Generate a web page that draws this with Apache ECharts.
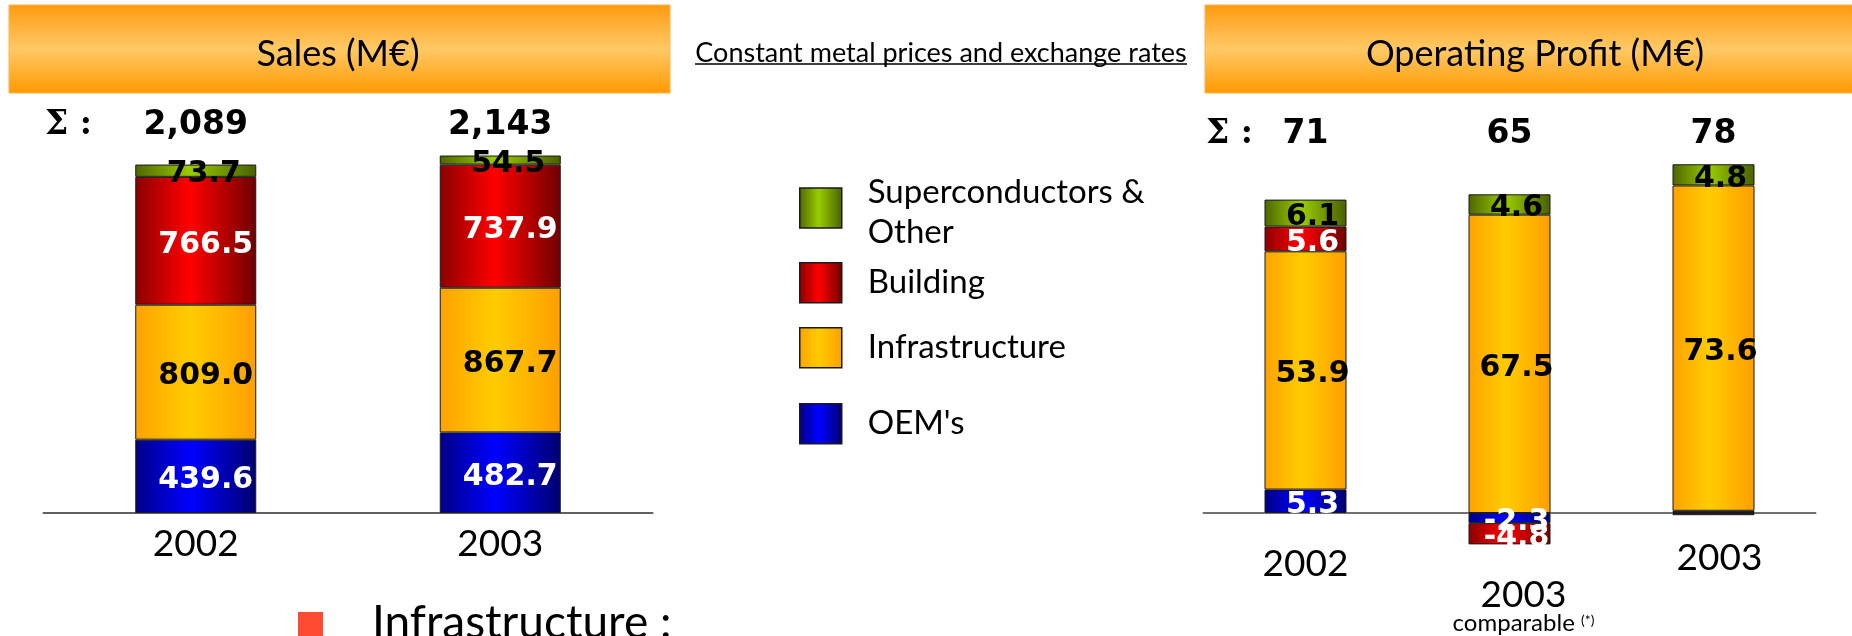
<!DOCTYPE html>
<html>
<head>
<meta charset="utf-8">
<script src="https://cdn.jsdelivr.net/npm/echarts@6.0.0/dist/echarts.min.js"></script>
<style>
  html, body { margin: 0; padding: 0; background: #fff; }
  #chart { width: 1852px; height: 636px; }
</style>
</head>
<body>
<div id="chart"></div>
<script>
// sales (M€), constant metal prices and exchange rates
const salesYears = ["2002", "2003"];
const salesTotals = ["2,089", "2,143"];
const salesOem = [439.6, 482.7];
const salesInfra = [809.0, 867.7];
const salesBuilding = [766.5, 737.9];
const salesOther = [73.7, 54.5];

// operating profit (M€)
const profitYears = ["2002", "2003c", "2003"];
const profitTotals = ["71", "65", "78"];
const profitOem = [5.3, -2.3, 0.5];
const profitInfra = [53.9, 67.5, 73.6];
const profitBuilding = [5.6, -4.8, -0.5];
const profitOther = [6.1, 4.6, 4.8];

const segNames = ["OEM's", "Infrastructure", "Building", "Superconductors & Other"];

function grad(edge, mid, edge2) {
  return new echarts.graphic.LinearGradient(0, 0, 1, 0, [
    { offset: 0, color: edge },
    { offset: 0.45, color: mid },
    { offset: 1, color: edge2 },
  ]);
}

const fills = {
  "OEM's": grad("#000086", "#0000ff", "#000070"),
  "Infrastructure": grad("#ffa200", "#ffcc00", "#ff9f00"),
  "Building": grad("#8c0000", "#ff0000", "#700000"),
  "Superconductors & Other": grad("#4f6600", "#99cc00", "#4a6000"),
};
const labelColors = {
  "OEM's": "#fff",
  "Infrastructure": "#000",
  "Building": "#fff",
  "Superconductors & Other": "#000",
};

function fmt(p) {
  if (Math.abs(p.value) < 1) return "";
  return p.value.toFixed(1);
}

// xi: 0 = sales chart, 1 = profit chart
function makeSeries(name, data, xi, dx) {
  return {
    name: name,
    type: "bar",
    stack: xi === 0 ? "sales" : "profit",
    xAxisIndex: xi === 0 ? 0 : 2,
    yAxisIndex: xi,
    barWidth: xi === 0 ? 121 : 82,
    data: data,
    itemStyle: {
      color: fills[name],
      borderColor: "#1a1a1a",
      borderWidth: 1,
    },
    label: {
      show: true,
      position: "inside",
      offset: [dx, 4],
      formatter: fmt,
      color: labelColors[name],
      fontFamily: "DejaVu Sans",
      fontWeight: "bold",
      fontSize: 30,
    },
    emphasis: { disabled: true },
  };
}

function legendFor(name, top, text) {
  return {
    left: 799,
    top: top,
    padding: 0,
    orient: "vertical",
    selectedMode: false,
    data: [name],
    icon: "rect",
    itemWidth: 42,
    itemHeight: 40,
    itemStyle: { borderColor: "#1a1a1a", borderWidth: 1.5 },
    formatter: function () { return text; },
    textStyle: {
      fontFamily: "Lato",
      fontSize: 33,
      color: "#000",
      padding: [0, 0, 0, 21],
      rich: {
        a: { fontFamily: "Lato", fontSize: 33, lineHeight: 49 },
        b: { fontFamily: "Lato", fontSize: 33, lineHeight: 32 },
      },
    },
  };
}

function header(x, w, cx, title) {
  return [
    {
      type: "rect",
      shape: { x: x, y: 5, width: w, height: 88 },
      style: {
        fill: new echarts.graphic.LinearGradient(0, 0, 0, 1, [
          { offset: 0, color: "#ff9a0f" },
          { offset: 0.5, color: "#ffc966" },
          { offset: 1, color: "#ff9900" },
        ]),
        stroke: "#ffb347",
        lineWidth: 1,
      },
    },
    {
      type: "text",
      x: cx,
      y: 54,
      style: {
        text: title,
        font: "36px Lato",
        fill: "#000",
        align: "center",
        verticalAlign: "middle",
        textAlign: "center",
        textVerticalAlign: "middle",
      },
    },
  ];
}

function sigma(x, y) {
  return {
    type: "text",
    x: x,
    y: y,
    style: {
      text: "Σ :",
      font: "bold 33px 'DejaVu Serif'",
      fill: "#000",
      verticalAlign: "middle",
      textVerticalAlign: "middle",
    },
  };
}

const chart = echarts.init(document.getElementById("chart"));

chart.setOption({
  animation: false,
  grid: [
    { left: 43.5, width: 609, top: 146, bottom: 123 },
    { left: 1203.5, width: 612, top: 159.4, bottom: 78.8 },
  ],
  xAxis: [
    {
      type: "category",
      gridIndex: 0,
      data: salesYears,
      axisLine: { lineStyle: { color: "#606060", width: 2 } },
      axisTick: { show: false },
      axisLabel: { margin: 13, fontFamily: "Lato", fontSize: 37, color: "#000" },
    },
    {
      type: "category",
      gridIndex: 0,
      position: "top",
      data: salesTotals,
      axisLine: { show: false, onZero: false },
      axisTick: { show: false },
      axisLabel: { margin: 4, fontFamily: "DejaVu Sans", fontWeight: "bold", fontSize: 33, color: "#000" },
    },
    {
      type: "category",
      gridIndex: 1,
      data: profitYears,
      axisLine: { onZero: true, lineStyle: { color: "#707070", width: 2 } },
      axisTick: { show: false },
      axisLabel: {
        margin: -20,
        color: "#000",
        formatter: function (v) {
          if (v === "2002") return "{a|2002}";
          if (v === "2003c") return "{sp| }\n{c|2003}\n{s|comparable }{sup|(*)}";
          return "{b|2003}";
        },
        rich: {
          a: { fontFamily: "Lato", fontSize: 37, lineHeight: 53 },
          b: { fontFamily: "Lato", fontSize: 37, lineHeight: 41, padding: [0, 0, 0, 12] },
          sp: { fontSize: 10, lineHeight: 40 },
          c: { fontFamily: "Lato", fontSize: 37, lineHeight: 36, padding: [0, 0, 0, 28] },
          s: { fontFamily: "Lato", fontSize: 24, lineHeight: 20, padding: [0, 0, 0, 28] },
          sup: { fontFamily: "Lato", fontSize: 14, lineHeight: 20, verticalAlign: "top" },
        },
      },
    },
    {
      type: "category",
      gridIndex: 1,
      position: "top",
      data: profitTotals,
      axisLine: { show: false, onZero: false },
      axisTick: { show: false },
      axisLabel: { margin: 8.5, fontFamily: "DejaVu Sans", fontWeight: "bold", fontSize: 33, color: "#000" },
    },
  ],
  yAxis: [
    { type: "value", gridIndex: 0, min: 0, max: 2200, show: false },
    { type: "value", gridIndex: 1, min: -10, max: 80, show: false },
  ],
  legend: [
    legendFor("Superconductors & Other", 175.5, "{a|Superconductors &}\n{b|Other}"),
    legendFor("Building", 262, "Building"),
    legendFor("Infrastructure", 327, "Infrastructure"),
    legendFor("OEM's", 403, "OEM's"),
  ],
  series: [
    makeSeries(segNames[0], salesOem, 0, 10),
    makeSeries(segNames[1], salesInfra, 0, 10),
    makeSeries(segNames[2], salesBuilding, 0, 10),
    makeSeries(segNames[3], salesOther, 0, 8),
    makeSeries(segNames[0], profitOem, 1, 7),
    makeSeries(segNames[1], profitInfra, 1, 7),
    makeSeries(segNames[2], profitBuilding, 1, 7),
    makeSeries(segNames[3], profitOther, 1, 7),
  ],
  graphic: header(9, 661, 338, "Sales (M€)")
    .concat(header(1205, 660, 1535, "Operating Profit (M€)"))
    .concat([
      sigma(45, 125),
      sigma(1206, 134),
      {
        type: "text",
        x: 941,
        y: 53,
        style: {
          text: "Constant metal prices and exchange rates",
          font: "27px Lato",
          fill: "#000",
          align: "center",
          verticalAlign: "middle",
          textAlign: "center",
          textVerticalAlign: "middle",
        },
      },
      {
        type: "line",
        shape: { x1: 695, y1: 64, x2: 1187, y2: 64 },
        style: { stroke: "#000", lineWidth: 1.5 },
      },
      {
        type: "rect",
        shape: { x: 298, y: 612, width: 25, height: 30 },
        style: { fill: "#ff4a33" },
      },
      {
        type: "text",
        x: 372,
        y: 623,
        style: {
          text: "Infrastructure :",
          font: "46px Lato",
          fill: "#000",
          verticalAlign: "middle",
          textVerticalAlign: "middle",
        },
      },
    ]),
});
</script>
</body>
</html>
